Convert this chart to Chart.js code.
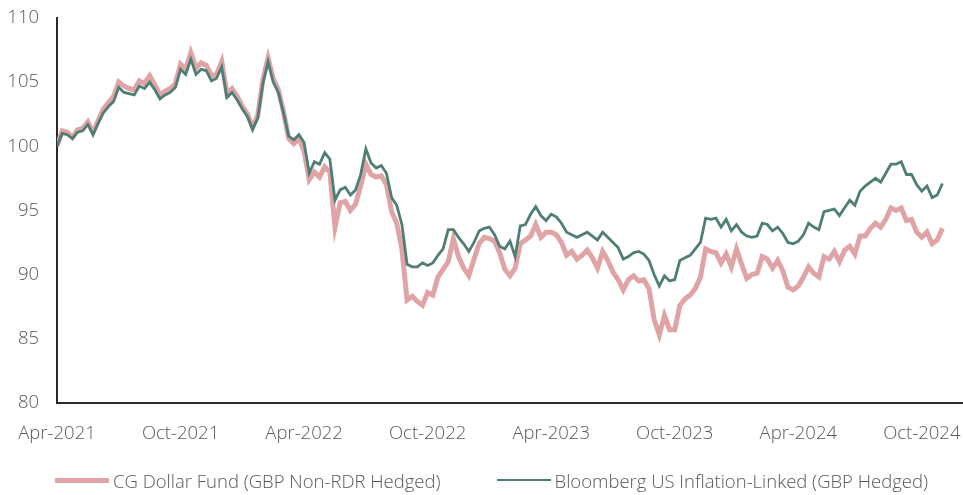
<!DOCTYPE html>
<html>
<head>
<meta charset="utf-8">
<script src="https://cdn.jsdelivr.net/npm/chart.js@4.4.1/dist/chart.umd.min.js"></script>
<style>
    html, body { margin: 0; padding: 0; background: #fff; }
    #wrap { width: 963px; height: 495px; position: relative; }
    #legend {
        position: absolute; left: 55px; top: 468px; height: 24px;
        display: flex; align-items: center;
        font-family: 'Open Sans', sans-serif; font-weight: 300; font-size: 18.5px; color: #595959;
        white-space: nowrap;
    }
    #legend .item { display: flex; align-items: center; }
    #legend .item + .item { margin-left: 56px; }
    #legend .swatch { width: 54px; margin-right: 4px; }
</style>
</head>
<body>
<div id="wrap">
    <canvas id="chart"></canvas>
    <div id="legend"></div>
</div>
<script>
// ===== DADOS (valores semanais, base 100 em Abr-2021) =====

const tickLabels = ['Apr-2021', 'Oct-2021', 'Apr-2022', 'Oct-2022', 'Apr-2023', 'Oct-2023', 'Apr-2024', 'Oct-2024'];
const seriesNames = ['CG Dollar Fund (GBP Non-RDR Hedged)', 'Bloomberg US Inflation-Linked (GBP Hedged)'];

const cgDollarFund = [
    100.0, 101.2, 101.1, 100.7, 101.3, 101.4, 101.9, 101.1, 102.0, 102.9,
    103.4, 103.9, 105.0, 104.7, 104.5, 104.4, 105.1, 104.9, 105.5, 104.8,
    104.0, 104.3, 104.5, 104.9, 106.4, 106.0, 107.3, 106.1, 106.5, 106.3,
    105.5, 105.6, 106.6, 104.1, 104.5, 103.9, 103.1, 102.5, 101.5, 102.4,
    105.2, 106.9, 105.3, 104.4, 102.7, 100.6, 100.2, 100.6, 99.6, 97.4,
    98.0, 97.6, 98.4, 98.0, 93.7, 95.6, 95.7, 95.0, 95.5, 96.9,
    98.6, 97.8, 97.6, 97.7, 97.0, 94.9, 94.0, 92.0, 88.0, 88.3,
    87.9, 87.6, 88.6, 88.4, 89.8, 90.4, 91.0, 92.8, 91.4, 90.5,
    89.9, 91.2, 92.4, 92.9, 92.8, 92.6, 91.7, 90.4, 89.9, 90.5,
    92.4, 92.7, 93.0, 93.9, 92.9, 93.3, 93.3, 93.1, 92.5, 91.5,
    91.8, 91.2, 91.5, 91.9, 91.3, 90.5, 91.8, 91.1, 90.2, 89.6,
    88.8, 89.6, 89.9, 89.5, 89.6, 88.9, 86.5, 85.3, 86.8, 85.7,
    85.7, 87.6, 88.1, 88.4, 88.9, 89.8, 92.0, 91.8, 91.7, 90.9,
    91.6, 90.6, 92.0, 90.8, 89.7, 90.0, 90.1, 91.4, 91.2, 90.5,
    91.1, 90.3, 89.0, 88.8, 89.1, 89.8, 90.6, 90.1, 89.8, 91.4,
    91.2, 91.8, 91.0, 91.9, 92.2, 91.6, 93.0, 93.0, 93.6, 94.0,
    93.7, 94.3, 95.2, 95.0, 95.2, 94.2, 94.3, 93.3, 92.9, 93.3,
    92.4, 92.7, 93.6
];

const bloombergLinkers = [
    100.0, 101.0, 100.9, 100.6, 101.1, 101.2, 101.7, 100.9, 101.8, 102.6,
    103.1, 103.5, 104.6, 104.2, 104.1, 104.0, 104.7, 104.5, 105.0, 104.4,
    103.7, 104.0, 104.2, 104.6, 106.0, 105.6, 106.8, 105.6, 106.0, 105.9,
    105.1, 105.3, 106.2, 103.8, 104.2, 103.6, 102.9, 102.3, 101.3, 102.2,
    104.9, 106.6, 105.0, 104.2, 102.6, 100.8, 100.5, 100.9, 100.3, 97.9,
    98.8, 98.6, 99.5, 99.0, 95.8, 96.6, 96.8, 96.2, 96.6, 97.8,
    99.8, 98.7, 98.3, 98.5, 97.9, 96.0, 95.4, 93.9, 90.8, 90.6,
    90.6, 90.9, 90.7, 90.9, 91.5, 92.0, 93.5, 93.5, 92.9, 92.4,
    91.8, 92.5, 93.4, 93.6, 93.7, 93.1, 92.2, 92.0, 92.6, 91.4,
    93.8, 93.9, 94.7, 95.3, 94.6, 94.2, 94.7, 94.5, 94.0, 93.3,
    93.1, 92.9, 93.1, 93.3, 93.0, 92.7, 93.3, 92.9, 92.5, 92.1,
    91.2, 91.4, 91.7, 91.8, 91.6, 91.1, 90.0, 89.1, 89.9, 89.5,
    89.6, 91.1, 91.3, 91.5, 92.0, 92.5, 94.4, 94.3, 94.4, 93.7,
    94.3, 93.4, 93.9, 93.3, 93.0, 92.9, 93.0, 94.0, 93.9, 93.4,
    93.7, 93.2, 92.5, 92.4, 92.6, 93.1, 94.0, 93.7, 93.5, 94.9,
    95.0, 95.1, 94.6, 95.2, 95.8, 95.4, 96.5, 96.9, 97.2, 97.5,
    97.2, 97.9, 98.6, 98.6, 98.8, 97.8, 97.8, 97.0, 96.5, 96.9,
    96.0, 96.2, 97.1
];

// um ponto por semana: 4 pontos por mês, eixo x em meses desde Abr-2021
const pointsPerMonth = 4;
const monthsPerTick = 6;

const toPoints = (values) => values.map((v, i) => ({ x: i / pointsPerMonth, y: v }));

// ===== GRÁFICO =====

Chart.defaults.font.family = "'Open Sans', sans-serif";
Chart.defaults.font.size = 18.5;
Chart.defaults.font.weight = 300;
Chart.defaults.color = '#595959';

const axisColor = '#2b2b2b';

const chart = new Chart(document.getElementById('chart'), {
    type: 'line',
    data: {
        datasets: [
            {
                label: seriesNames[0],
                data: toPoints(cgDollarFund),
                borderColor: '#e0a4a6',
                borderWidth: 5,
                pointRadius: 0,
                tension: 0,
                order: 1
            },
            {
                label: seriesNames[1],
                data: toPoints(bloombergLinkers),
                borderColor: '#4f7e74',
                borderWidth: 2.8,
                pointRadius: 0,
                tension: 0,
                order: 0
            }
        ]
    },
    options: {
        responsive: true,
        maintainAspectRatio: false,
        animation: false,
        layout: { padding: { left: 0, right: 0, top: 18, bottom: 30 } },
        scales: {
            x: {
                type: 'linear',
                min: 0,
                max: 44,
                grid: { display: false, drawTicks: false },
                border: { display: true, color: axisColor, width: 2 },
                ticks: {
                    stepSize: monthsPerTick,
                    includeBounds: false,
                    maxRotation: 0,
                    autoSkip: false,
                    padding: 20,
                    callback: (value) => tickLabels[value / monthsPerTick] || ''
                },
                // o eixo vai de borda a borda; os rótulos podem passar para fora
                afterFit: (scale) => {
                    scale.paddingLeft = 0;
                    scale.paddingRight = 0;
                }
            },
            y: {
                min: 80,
                max: 110,
                grid: { display: false, drawTicks: false },
                border: { display: true, color: axisColor, width: 2 },
                ticks: { stepSize: 5, padding: 18 },
                afterFit: (scale) => {
                    scale.width = 57;
                    scale.paddingTop = 0;
                    scale.paddingBottom = 0;
                }
            }
        },
        plugins: {
            tooltip: { enabled: false },
            legend: { display: false }
        }
    }
});

// ===== LEGENDA EM HTML =====

const legendEl = document.getElementById('legend');
legendEl.innerHTML = chart.data.datasets.map(ds => `
    <div class="item">
        <span class="swatch" style="height:${ds.borderWidth}px; background:${ds.borderColor};"></span>
        <span>${ds.label}</span>
    </div>
`).join('');
</script>
</body>
</html>
